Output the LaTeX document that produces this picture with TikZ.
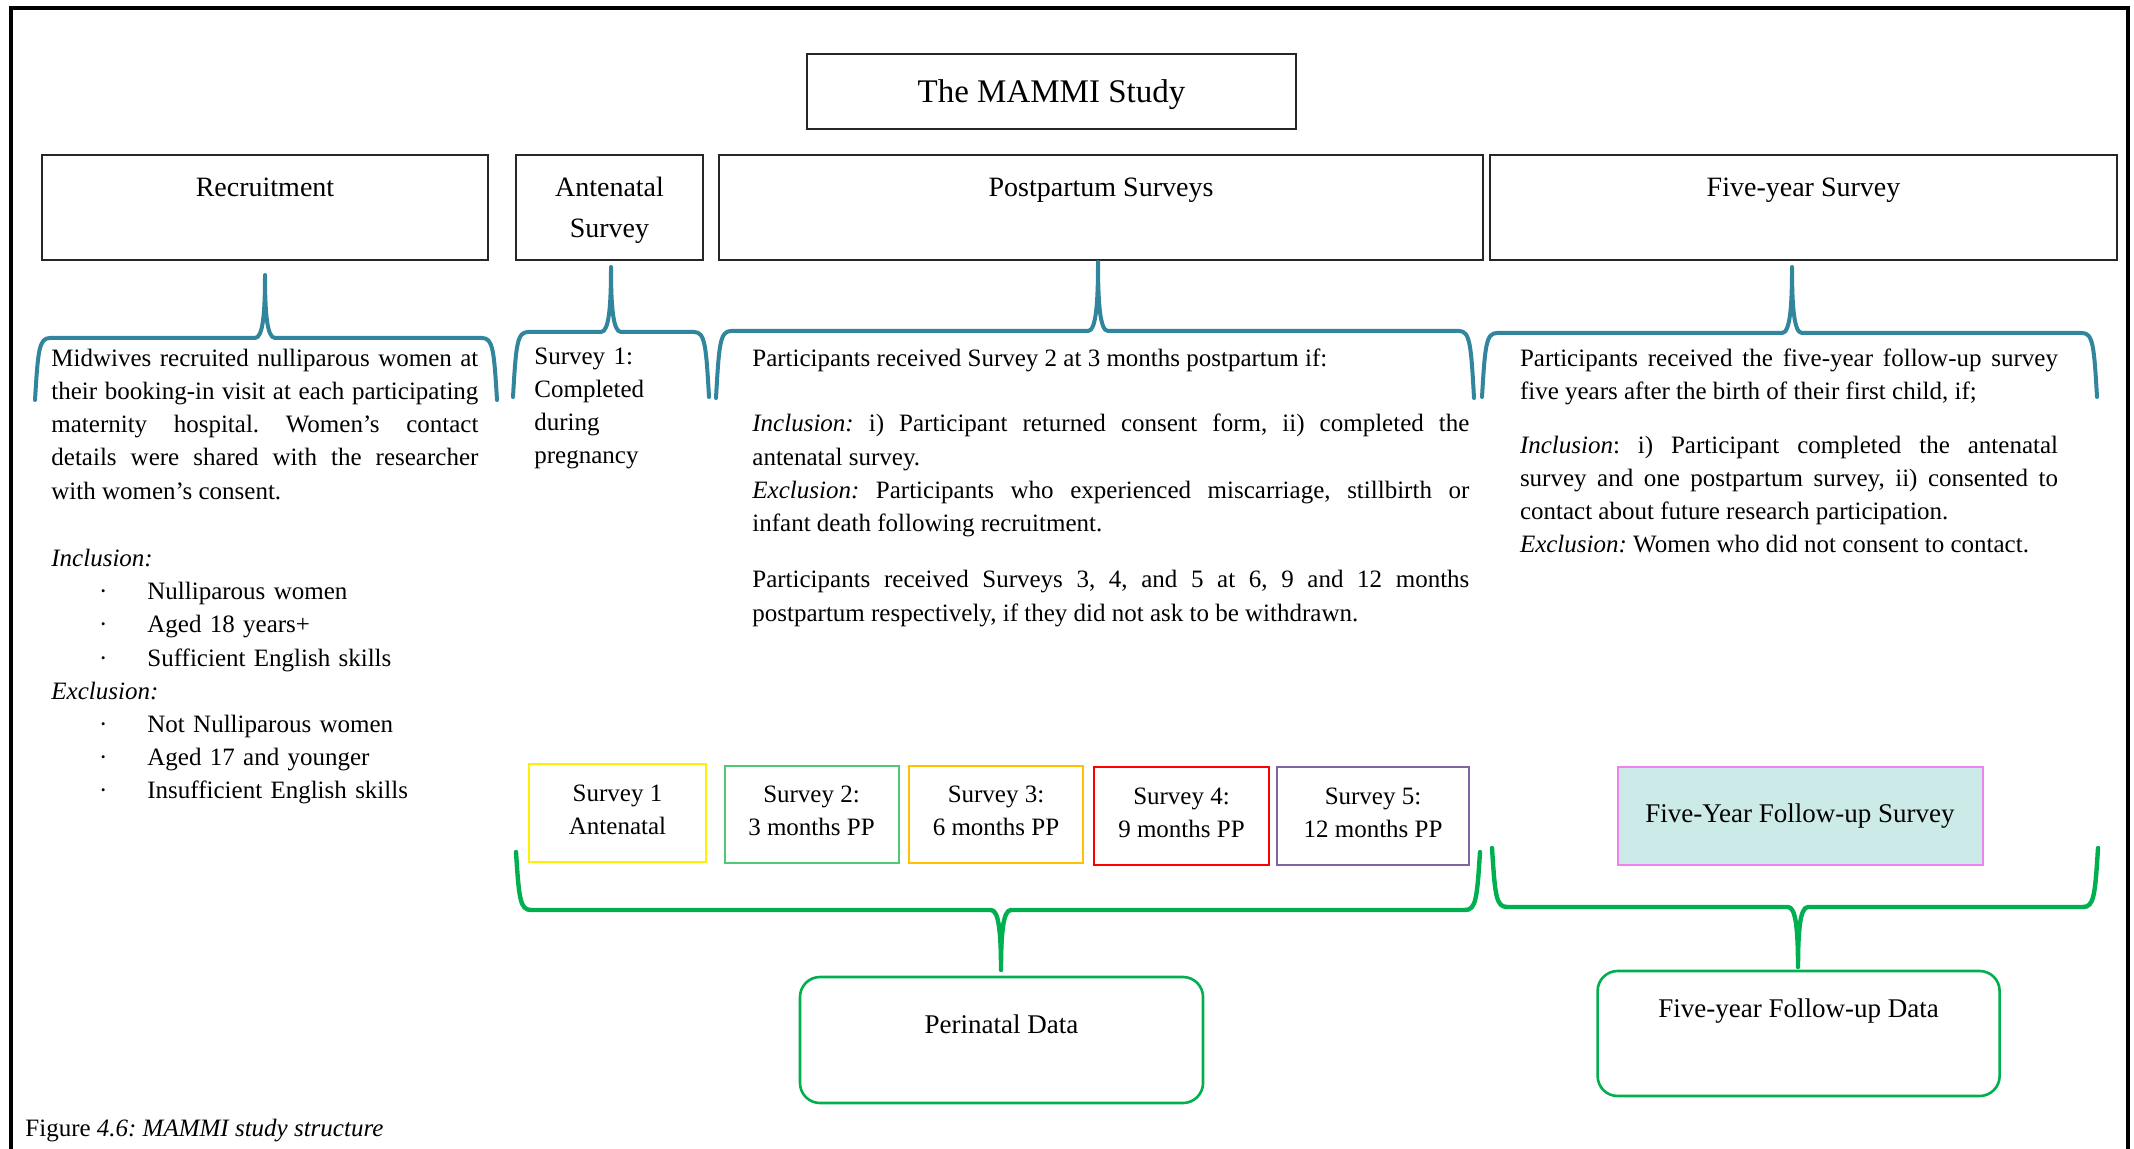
\documentclass[tikz,border=0pt]{standalone}
\usepackage{fontspec}
\setmainfont{Liberation Serif}
\usetikzlibrary{calc}

\definecolor{braceteal}{RGB}{49,133,156}
\definecolor{bracegreen}{RGB}{0,176,80}
\definecolor{sone}{RGB}{255,240,0}
\definecolor{stwo}{RGB}{80,200,120}
\definecolor{sthree}{RGB}{255,192,0}
\definecolor{sfour}{RGB}{255,0,0}
\definecolor{sfive}{RGB}{128,100,162}
\definecolor{fyfill}{RGB}{203,234,232}
\definecolor{fyedge}{RGB}{240,130,240}

\tolerance=9999
\hbadness=10000
\frenchspacing

% fixed height for the first line of each text block
\newcommand\firststrut{\rule{0pt}{12pt}}
% one bullet line of the recruitment criteria
\newcommand\critem[1]{\hspace*{26pt}\makebox[0pt]{·}\hspace*{22pt}#1}
% curly brace: style, left x, right x, end y, bar y, tip x, tip y
\newcommand\drawbrace[7]{%
  \draw[#1] (#2,#4) .. controls ({#2+3},{#5+0.2*(#4-#5)}) and ({#2+4},#5) .. ({#2+15},#5)
    -- ({#6-10},#5) .. controls ({#6-2},#5) and (#6,{#5+0.4*(#7-#5)}) .. (#6,#7)
    .. controls (#6,{#5+0.4*(#7-#5)}) and ({#6+2},#5) .. ({#6+10},#5)
    -- ({#3-15},#5) .. controls ({#3-4},#5) and ({#3-3},{#5+0.2*(#4-#5)}) .. (#3,#4);}

\tikzset{
  pxsize/.style 2 args={minimum width={#1*0.5pt}, minimum height={#2*0.5pt}},
  headbox/.style={draw=black!85, line width=0.7pt, inner sep=0pt},
  headtext/.style={font=\fontsize{14}{20.5}\selectfont, anchor=base, inner sep=0pt},
  body/.style={font=\fontsize{12.5}{16.6}\selectfont, inner sep=0pt, anchor=north west, align=justify},
  surveybox/.style={draw, line width=1pt, inner sep=0pt},
  surveytext/.style={font=\fontsize{12.5}{16.5}\selectfont, inner sep=0pt, anchor=north, align=center},
  databox/.style={draw=bracegreen, line width=1.3pt, rounded corners=10pt, inner sep=0pt},
  datatext/.style={font=\fontsize{13.5}{16.5}\selectfont, anchor=base, inner sep=0pt},
  tealbrace/.style={draw=braceteal, line width=2pt, line join=round, line cap=round},
  greenbrace/.style={draw=bracegreen, line width=2.2pt, line join=round, line cap=round},
}

\begin{document}
\begin{tikzpicture}[x=0.5pt,y=-0.5pt]
\useasboundingbox (0,0) rectangle (2134,1149);
\fill[white] (0,0) rectangle (2134,1149);

% outer frame, open at the bottom
\draw[line width=2pt] (11,1149) -- (11,8.5) -- (2128,8.5) -- (2128,1149);

% title
\node[headbox, pxsize={489}{75}] (title) at (1051.5,91.5) {};
\node[anchor=base, inner sep=0pt, font=\fontsize{16.5}{20}\selectfont] (titletxt) at (1051.5,103) {The MAMMI Study};

% stage headers
\node[headbox, pxsize={446}{105}] (recbox) at (265,207.5) {};
\node[headbox, pxsize={187}{105}] (antbox) at (609.5,207.5) {};
\node[headbox, pxsize={764}{105}] (ppbox) at (1101,207.5) {};
\node[headbox, pxsize={627}{105}] (fybox) at (1803.5,207.5) {};

\node[headtext] (recttl) at (265,197) {Recruitment};
\node[headtext] (antttla) at (609.5,197) {Antenatal};
\node[headtext] (antttlb) at (609.5,238) {Survey};
\node[headtext] (ppttl) at (1101,197) {Postpartum Surveys};
\node[headtext] (fyttl) at (1803.5,197) {Five-year Survey};

% braces under the headers
\drawbrace{tealbrace}{35}{497}{400}{338}{265}{275}
\drawbrace{tealbrace}{513}{709}{397}{332}{611}{267}
\drawbrace{tealbrace}{716}{1474}{398}{331}{1098}{262}
\drawbrace{tealbrace}{1482}{2097}{397}{333}{1792}{267}

% recruitment text
\node[body, text width=213.5pt] (rectxt) at (51,342) {\firststrut Midwives recruited nulliparous women at\linebreak
their booking-in visit at each participating\linebreak
maternity hospital. Women’s contact\linebreak
details were shared with the researcher\linebreak
with women’s consent.};
\node[body, text width=213.5pt, align=left] (reclist) at (51,542) {\firststrut\textit{Inclusion:}\par
\critem{Nulliparous women}\par
\critem{Aged 18 years+}\par
\critem{Sufficient English skills}\par
\textit{Exclusion:}\par
\critem{Not Nulliparous women}\par
\critem{Aged 17 and younger}\par
\critem{Insufficient English skills}};

% antenatal text
\node[body, text width=90pt, align=left] (anttxt) at (534,340) {\firststrut Survey 1:\par Completed\par during\par pregnancy};

% postpartum text
\node[body, text width=358.5pt] (pptxta) at (752,342) {\firststrut Participants received Survey 2 at 3 months postpartum if:};
\node[body, text width=358.5pt] (pptxtb) at (752,407.5) {\firststrut\textit{Inclusion:} i) Participant returned consent form, ii) completed the\linebreak
antenatal survey.\par
\textit{Exclusion:} Participants who experienced miscarriage, stillbirth or\linebreak
infant death following recruitment.};
\node[body, text width=358.5pt] (pptxtc) at (752,563.5) {\firststrut Participants received Surveys 3, 4, and 5 at 6, 9 and 12 months\linebreak
postpartum respectively, if they did not ask to be withdrawn.};

% five-year text
\node[body, text width=269pt] (fytxta) at (1519.6,342) {\firststrut Participants received the five-year follow-up survey\linebreak
five years after the birth of their first child, if;};
\node[body, text width=269pt] (fytxtb) at (1519.6,429) {\firststrut\textit{Inclusion}: i) Participant completed the antenatal\linebreak
survey and one postpartum survey, ii) consented to\linebreak
contact about future research participation.\par
\textit{Exclusion:} Women who did not consent to contact.};

% survey boxes
\node[surveybox, draw=sone, pxsize={177}{98}] (sv1) at (617.5,813) {};
\node[surveybox, draw=stwo, pxsize={174}{97}] (sv2) at (811.5,814.5) {};
\node[surveybox, draw=sthree, pxsize={174}{97}] (sv3) at (996,814.5) {};
\node[surveybox, draw=sfour, pxsize={175}{98}] (sv4) at (1181.5,816) {};
\node[surveybox, draw=sfive, pxsize={192}{98}] (sv5) at (1373,816) {};
\node[surveytext] (sv1txt) at (617.5,777.5) {\firststrut Survey 1\\Antenatal};
\node[surveytext] (sv2txt) at (811.5,778) {\firststrut Survey 2:\\3 months PP};
\node[surveytext] (sv3txt) at (996,778) {\firststrut Survey 3:\\6 months PP};
\node[surveytext] (sv4txt) at (1181.5,780) {\firststrut Survey 4:\\9 months PP};
\node[surveytext] (sv5txt) at (1373,780) {\firststrut Survey 5:\\12 months PP};
\node[surveybox, draw=fyedge, fill=fyfill, pxsize={365}{98}, font=\fontsize{13.5}{16.5}\selectfont] (fysv) at (1800,816) {Five-Year Follow-up Survey};

% braces gathering the surveys into data sets
\drawbrace{greenbrace}{516}{1480}{852}{910}{1001}{970}
\drawbrace{greenbrace}{1492}{2098}{848}{907}{1798}{967}

% data boxes
\node[databox, pxsize={403}{126}] (perbox) at (1001.5,1040) {};
\node[datatext] (perttl) at (1001.5,1033) {Perinatal Data};
\node[databox, pxsize={402}{125}] (fydbox) at (1798.6,1033.5) {};
\node[datatext] (fydttl) at (1798.6,1017) {Five-year Follow-up Data};

% caption
\node[anchor=base west, inner sep=0pt, font=\fontsize{12.5}{15}\selectfont] (caption) at (25,1136) {Figure \textit{4.6: MAMMI study structure}};
\end{tikzpicture}
\end{document}
